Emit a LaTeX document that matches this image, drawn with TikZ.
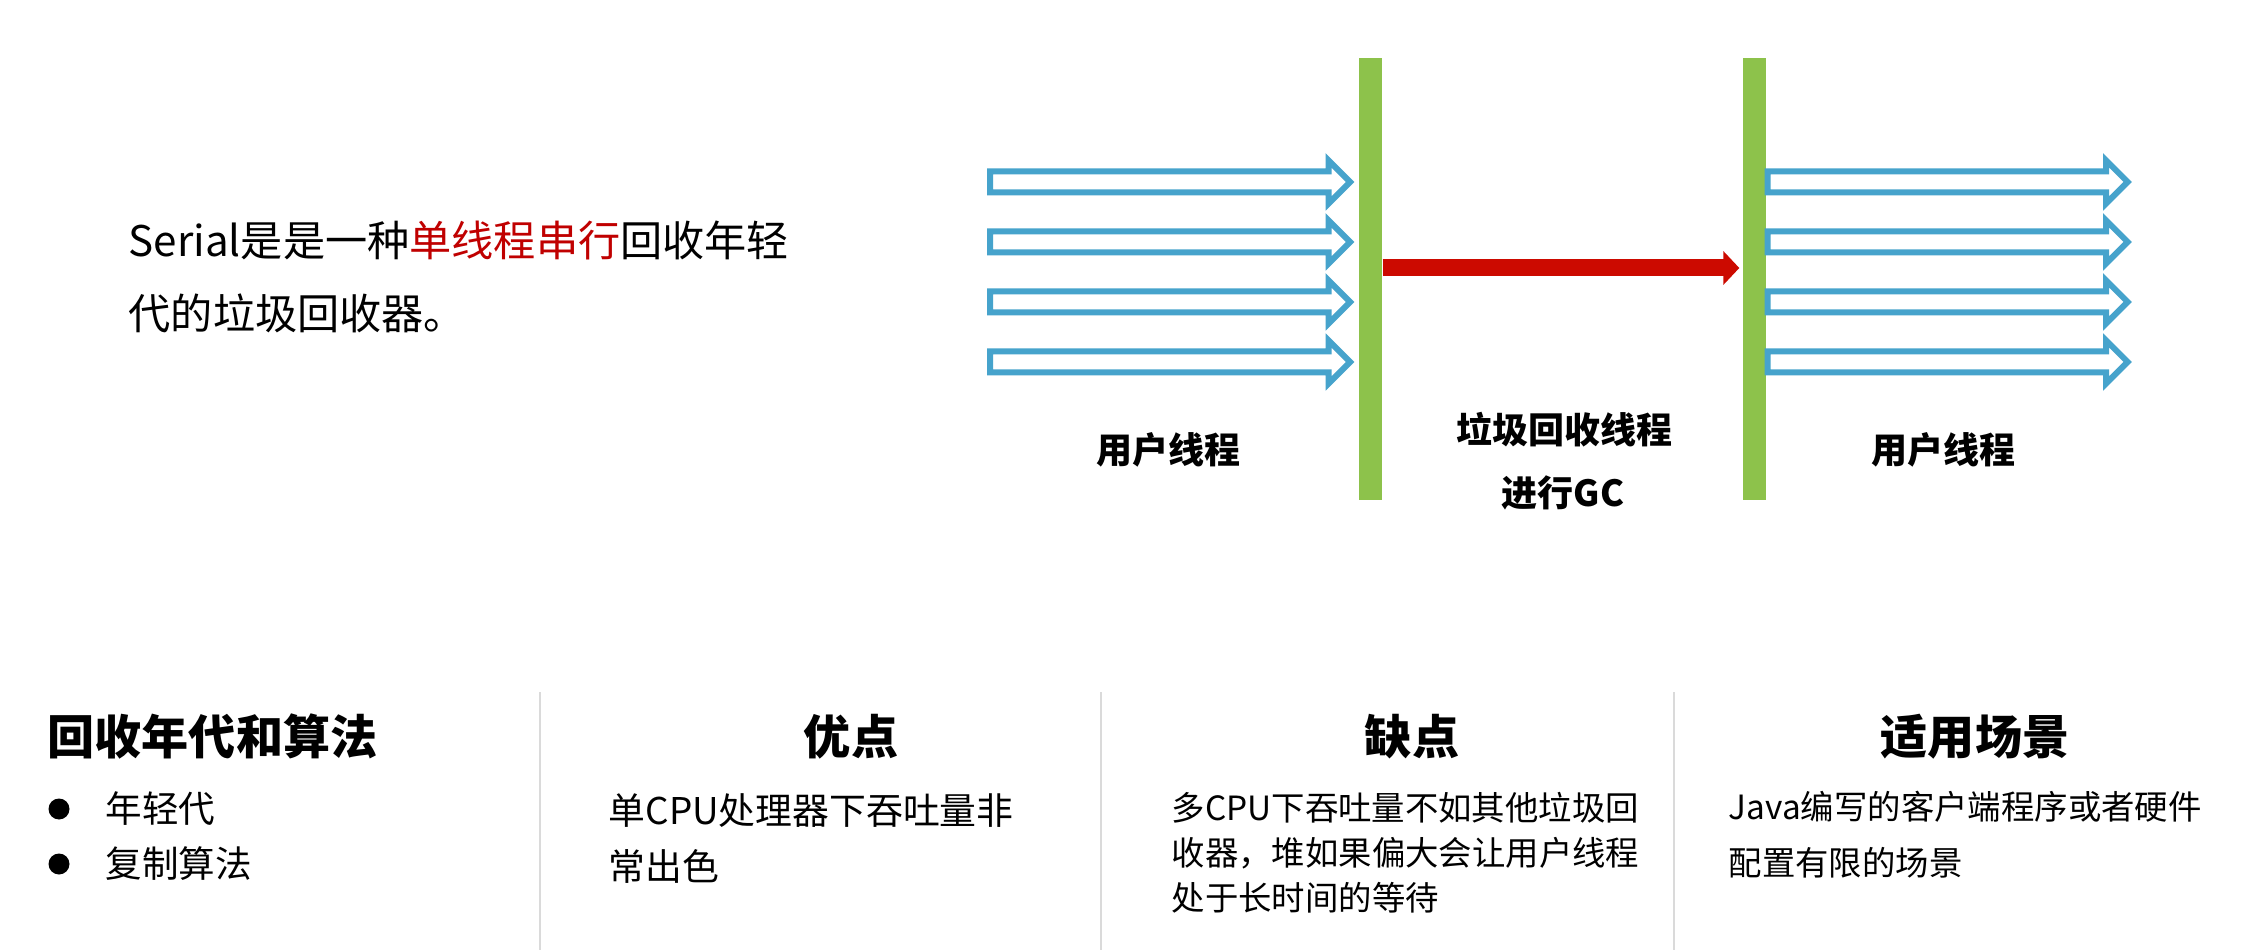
\documentclass[tikz,border=0pt]{standalone}
\usepackage{fontspec}
\setmainfont{Noto Sans CJK SC}
\usepackage{xcolor}
\usepackage{tikz}
\usetikzlibrary{shapes.arrows,arrows.meta}

\definecolor{threadblue}{RGB}{70,163,204}
\definecolor{bargreen}{RGB}{141,194,75}
\definecolor{gcred}{RGB}{204,10,0}
\definecolor{keyred}{RGB}{192,0,0}
\definecolor{sepgray}{RGB}{218,218,218}

\begin{document}
\begin{tikzpicture}[x=0.1mm, y=-0.1mm,
    bar/.style={fill=bargreen, minimum width=2.3mm, minimum height=44.2mm, inner sep=0pt},
    uarrow/.style={single arrow, draw=threadblue, line width=0.6mm, fill=white, inner xsep=0pt, inner ysep=0.75mm,
        minimum height=36mm, single arrow head extend=1.1mm, single arrow tip angle=90},
    gcarrow/.style={gcred, line width=1.7mm, -{Triangle[length=1.6mm, width=3.3mm]}},
    tlabel/.style={font=\fontsize{10.24}{12}\selectfont\bfseries, inner sep=0pt},
    intro/.style={font=\fontsize{12}{20.77}\selectfont, align=left, inner sep=0pt, anchor=west},
    colhead/.style={font=\fontsize{13.4}{15}\selectfont\bfseries, inner sep=0pt},
    colbody/.style={align=left, inner sep=0pt, anchor=west},
    dot/.style={circle, fill=black, minimum size=2.1mm, inner sep=0pt},
    sepline/.style={sepgray, line width=0.2mm}]

    \fill[white] (0,0) rectangle (2245,950);
    \useasboundingbox (0,0) rectangle (2245,950);

    % Intro
    \node[intro] (intro) at (128,277) {Serial是是一种\textcolor{keyred}{单线程串行}回收年轻\\代的垃圾回收器。};

    % Safepoints
    \node[bar] (bar1) at (1370.5,279) {};
    \node[bar] (bar2) at (1754.5,279) {};

    % User threads, before and after
    \foreach \i/\y in {1/182,2/242,3/302,4/362} {
        \coordinate (y\i) at (0,\y);
        \node[uarrow, anchor=tip] (before\i) at ([xshift=-0.4mm]bar1.west |- y\i) {};
        \node[uarrow, anchor=tail] (after\i) at ([xshift=-0.2mm]bar2.east |- y\i) {};
    }

    % GC thread
    \coordinate (gcy) at (0,268);
    \draw[gcarrow] (bar1.east |- gcy) -- ([xshift=-0.3mm]bar2.west |- gcy);

    \node[tlabel] (user1) at (1168,450) {用户线程};
    \node[tlabel] (gc1) at (1564,430) {垃圾回收线程};
    \node[tlabel] (gc2) at (1563,493) {进行GC};
    \node[tlabel] (user2) at (1943,450) {用户线程};

    % Columns
    \foreach \x in {540,1101,1674}
        \draw[sepline] (\x,692) -- (\x,950);

    \node[colhead, anchor=west] (gen) at (47,736) {回收年代和算法};
    \node[dot] (dot1) at (59,809) {};
    \node[colbody, font=\fontsize{10.4}{12}\selectfont] (item1) at (105,809) {年轻代};
    \node[dot] (dot2) at (59,864) {};
    \node[colbody, font=\fontsize{10.4}{12}\selectfont] (item2) at (105,864) {复制算法};

    \node[colhead] (pros) at (851,737) {优点};
    \node[colbody, font=\fontsize{10.48}{15.93}\selectfont] (prostext) at (608,839) {单CPU处理器下吞吐量非\\常出色};

    \node[colhead] (cons) at (1412,737) {缺点};
    \node[colbody, font=\fontsize{9.5}{12.8}\selectfont] (constext) at (1171,853) {多CPU下吞吐量不如其他垃圾回\\收器，堆如果偏大会让用户线程\\处于长时间的等待};

    \node[colhead] (scene) at (1975,737) {适用场景};
    \node[colbody, font=\fontsize{9.5}{15.93}\selectfont] (scenetext) at (1728,835) {Java编写的客户端程序或者硬件\\配置有限的场景};
\end{tikzpicture}
\end{document}
